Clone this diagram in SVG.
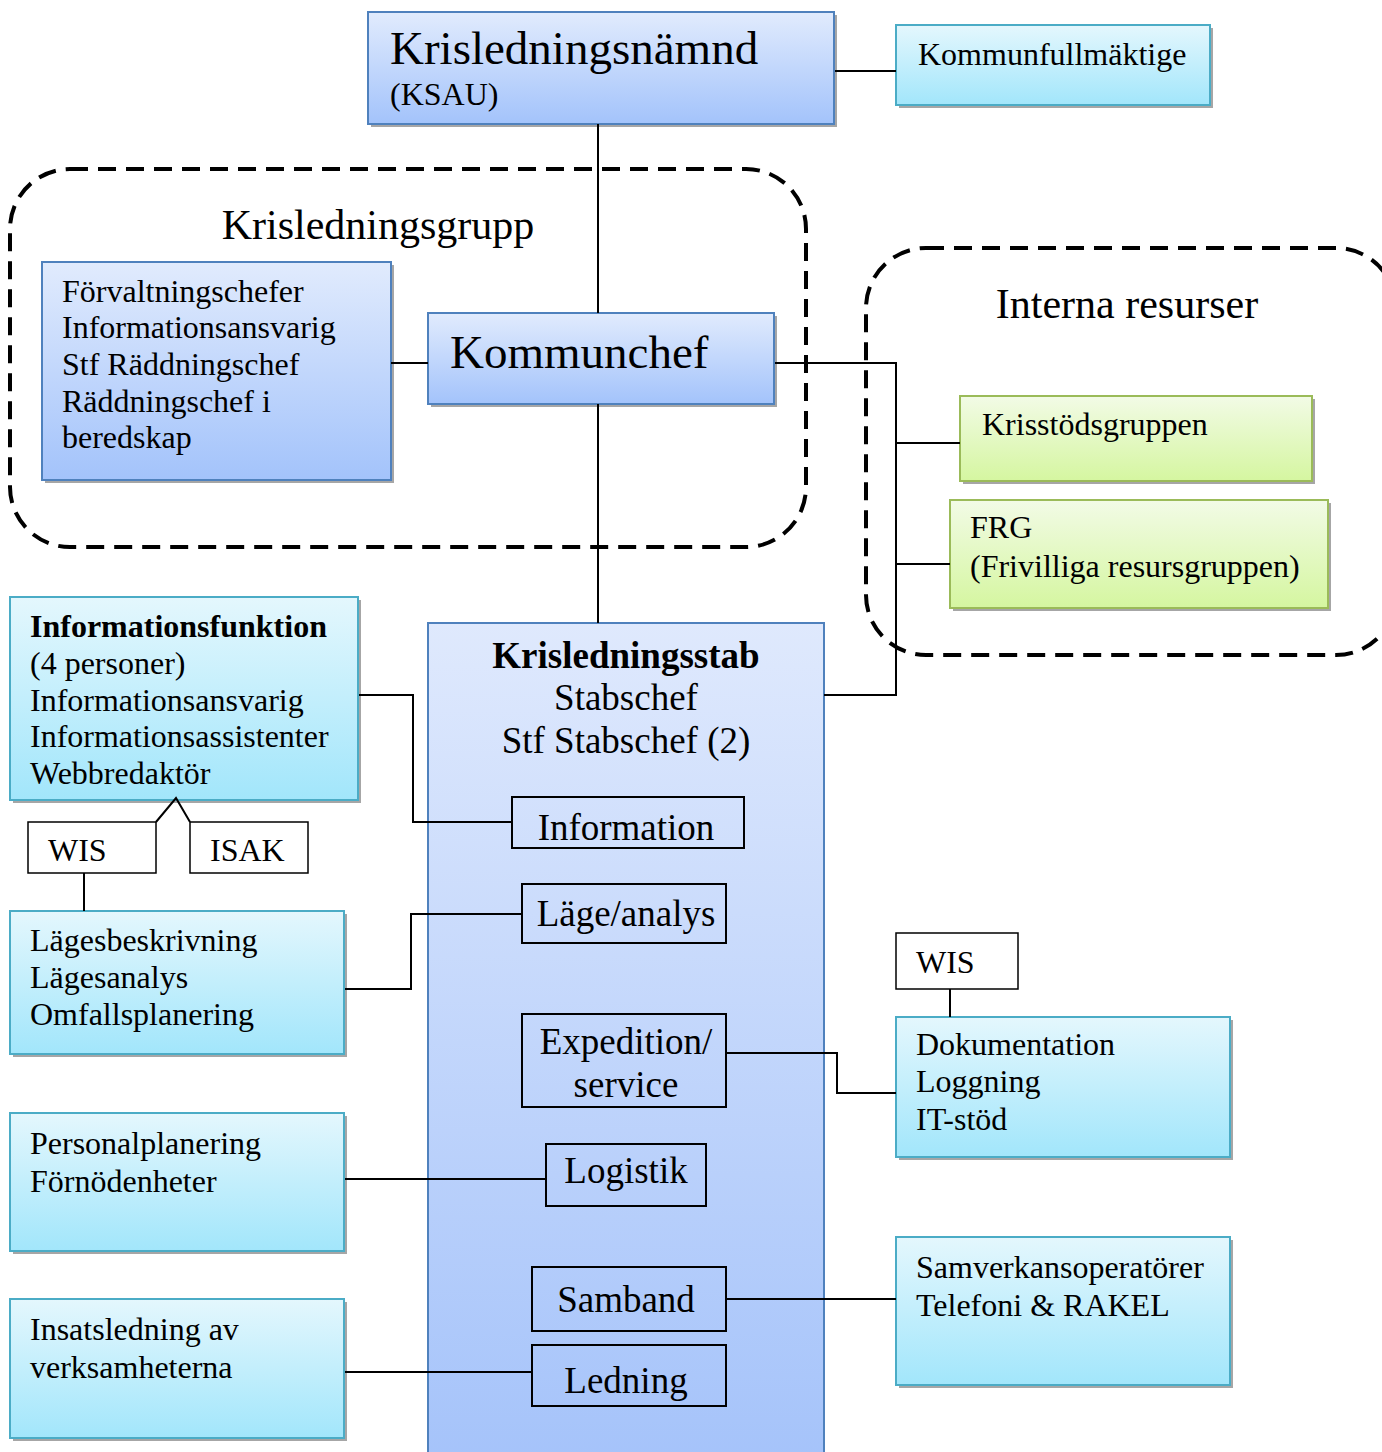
<svg xmlns="http://www.w3.org/2000/svg" width="1382" height="1452" viewBox="0 0 1382 1452">
<defs>
<linearGradient id="gBlue" x1="0" y1="0" x2="0" y2="1"><stop offset="0" stop-color="#e1ebfd"/><stop offset="1" stop-color="#a3c3fb"/></linearGradient>
<linearGradient id="gStab" x1="0" y1="0" x2="0" y2="1"><stop offset="0" stop-color="#dfe9fd"/><stop offset="1" stop-color="#a5c3fa"/></linearGradient>
<linearGradient id="gCyan" x1="0" y1="0" x2="0" y2="1"><stop offset="0" stop-color="#e4f7fd"/><stop offset="1" stop-color="#a2e6fb"/></linearGradient>
<linearGradient id="gGreen" x1="0" y1="0" x2="0" y2="1"><stop offset="0" stop-color="#f2fbe6"/><stop offset="1" stop-color="#d5f6a0"/></linearGradient>
</defs>
<style>
text{font-family:"Liberation Serif","Times New Roman",serif;fill:#000}
.t32{font-size:32px}
.t37{font-size:37px}
.t42{font-size:42px}
.t47{font-size:47px}
.b{font-weight:bold}
.mid{text-anchor:middle}
.shadow{fill:#a6a6a6}
.blue{fill:url(#gBlue);stroke:#4f81bd;stroke-width:2}
.cyan{fill:url(#gCyan);stroke:#4bacc6;stroke-width:2}
.green{fill:url(#gGreen);stroke:#9bbb59;stroke-width:2}
.inner{fill:none;stroke:#000;stroke-width:2}
.plain{fill:#fff;stroke:#000;stroke-width:1.5}
.dash{fill:none;stroke:#000;stroke-width:4;stroke-dasharray:18 10}
.conn{fill:none;stroke:#000;stroke-width:2}
</style>
<g id="group-krisledningsgrupp">
<rect class="dash" x="10" y="169" width="796" height="378" rx="60" ry="60"/>
<text class="t42 mid" x="378" y="239">Krisledningsgrupp</text>
</g>
<g id="group-interna">
<rect class="dash" x="866" y="248" width="530" height="407" rx="60" ry="60"/>
<text class="t42 mid" x="1127" y="318">Interna resurser</text>
</g>
<g id="node-krisledningsnamnd">
<rect class="shadow" x="371" y="15" width="466" height="112"/>
<rect class="blue" x="368" y="12" width="466" height="112"/>
<text class="t47" x="390" y="64">Krisledningsnämnd</text>
<text class="t32" x="390" y="105">(KSAU)</text>
</g>
<g id="node-kommunfullmaktige">
<rect class="shadow" x="899" y="28" width="314" height="80"/>
<rect class="cyan" x="896" y="25" width="314" height="80"/>
<text class="t32" x="918" y="65">Kommunfullmäktige</text>
</g>
<g id="node-forvaltningschefer">
<rect class="shadow" x="45" y="265" width="349" height="218"/>
<rect class="blue" x="42" y="262" width="349" height="218"/>
<text class="t32" x="62" y="302">Förvaltningschefer</text>
<text class="t32" x="62" y="338">Informationsansvarig</text>
<text class="t32" x="62" y="375">Stf Räddningschef</text>
<text class="t32" x="62" y="412">Räddningschef i</text>
<text class="t32" x="62" y="448">beredskap</text>
</g>
<g id="node-kommunchef">
<rect class="shadow" x="431" y="316" width="346" height="91"/>
<rect class="blue" x="428" y="313" width="346" height="91"/>
<text class="t47" x="450" y="368">Kommunchef</text>
</g>
<g id="node-krisstodsgruppen">
<rect class="shadow" x="963" y="399" width="352" height="85"/>
<rect class="green" x="960" y="396" width="352" height="85"/>
<text class="t32" x="982" y="435">Krisstödsgruppen</text>
</g>
<g id="node-frg">
<rect class="shadow" x="953" y="503" width="378" height="108"/>
<rect class="green" x="950" y="500" width="378" height="108"/>
<text class="t32" x="970" y="538">FRG</text>
<text class="t32" x="970" y="577">(Frivilliga resursgruppen)</text>
</g>
<g id="node-krisledningsstab">
<rect class="blue" style="fill:url(#gStab)" x="428" y="623" width="396" height="840"/>
<text class="t37 b mid" x="626" y="668">Krisledningsstab</text>
<text class="t37 mid" x="626" y="710">Stabschef</text>
<text class="t37 mid" x="626" y="753">Stf Stabschef (2)</text>
</g>
<g id="node-information">
<rect class="inner" x="512" y="797" width="232" height="51"/>
<text class="t37 mid" x="626" y="840">Information</text>
</g>
<g id="node-lage">
<rect class="inner" x="522" y="884" width="204" height="59"/>
<text class="t37 mid" x="626" y="926">Läge/analys</text>
</g>
<g id="node-expedition">
<rect class="inner" x="522" y="1014" width="204" height="93"/>
<text class="t37 mid" x="626" y="1054">Expedition/</text>
<text class="t37 mid" x="626" y="1097">service</text>
</g>
<g id="node-logistik">
<rect class="inner" x="546" y="1144" width="160" height="62"/>
<text class="t37 mid" x="626" y="1183">Logistik</text>
</g>
<g id="node-samband">
<rect class="inner" x="532" y="1267" width="194" height="64"/>
<text class="t37 mid" x="626" y="1312">Samband</text>
</g>
<g id="node-ledning">
<rect class="inner" x="532" y="1345" width="194" height="61"/>
<text class="t37 mid" x="626" y="1393">Ledning</text>
</g>
<g id="node-informationsfunktion">
<rect class="shadow" x="13" y="600" width="348" height="203"/>
<rect class="cyan" x="10" y="597" width="348" height="203"/>
<text class="t32 b" x="30" y="637">Informationsfunktion</text>
<text class="t32" x="30" y="674">(4 personer)</text>
<text class="t32" x="30" y="711">Informationsansvarig</text>
<text class="t32" x="30" y="747">Informationsassistenter</text>
<text class="t32" x="30" y="784">Webbredaktör</text>
</g>
<g id="node-wis-left">
<rect class="plain" x="28" y="822" width="128" height="51"/>
<text class="t32" x="48" y="861">WIS</text>
</g>
<g id="node-isak">
<rect class="plain" x="190" y="822" width="118" height="51"/>
<text class="t32" x="210" y="861">ISAK</text>
</g>
<g id="node-lagesbeskrivning">
<rect class="shadow" x="13" y="914" width="334" height="143"/>
<rect class="cyan" x="10" y="911" width="334" height="143"/>
<text class="t32" x="30" y="951">Lägesbeskrivning</text>
<text class="t32" x="30" y="988">Lägesanalys</text>
<text class="t32" x="30" y="1025">Omfallsplanering</text>
</g>
<g id="node-wis-right">
<rect class="plain" x="896" y="933" width="122" height="56"/>
<text class="t32" x="916" y="973">WIS</text>
</g>
<g id="node-dokumentation">
<rect class="shadow" x="899" y="1020" width="334" height="140"/>
<rect class="cyan" x="896" y="1017" width="334" height="140"/>
<text class="t32" x="916" y="1055">Dokumentation</text>
<text class="t32" x="916" y="1092">Loggning</text>
<text class="t32" x="916" y="1130">IT-stöd</text>
</g>
<g id="node-personalplanering">
<rect class="shadow" x="13" y="1116" width="334" height="138"/>
<rect class="cyan" x="10" y="1113" width="334" height="138"/>
<text class="t32" x="30" y="1154">Personalplanering</text>
<text class="t32" x="30" y="1192">Förnödenheter</text>
</g>
<g id="node-samverkan">
<rect class="shadow" x="899" y="1240" width="334" height="148"/>
<rect class="cyan" x="896" y="1237" width="334" height="148"/>
<text class="t32" x="916" y="1278">Samverkansoperatörer</text>
<text class="t32" x="916" y="1316">Telefoni &amp; RAKEL</text>
</g>
<g id="node-insatsledning">
<rect class="shadow" x="13" y="1302" width="334" height="139"/>
<rect class="cyan" x="10" y="1299" width="334" height="139"/>
<text class="t32" x="30" y="1340">Insatsledning av</text>
<text class="t32" x="30" y="1378">verksamheterna</text>
</g>
<g id="connectors">
<line class="conn" x1="835" y1="71" x2="896" y2="71"/>
<line class="conn" x1="598" y1="124" x2="598" y2="313"/>
<line class="conn" x1="598" y1="404" x2="598" y2="623"/>
<line class="conn" x1="391" y1="363" x2="428" y2="363"/>
<polyline class="conn" points="775,363 896,363 896,695 824,695"/>
<line class="conn" x1="896" y1="443" x2="960" y2="443"/>
<line class="conn" x1="896" y1="564" x2="950" y2="564"/>
<polyline class="conn" points="359,695 413,695 413,822 512,822"/>
<polyline class="conn" points="156,822 176,798 190,822"/>
<line class="conn" x1="84" y1="873" x2="84" y2="911"/>
<polyline class="conn" points="345,989 411,989 411,914 522,914"/>
<line class="conn" x1="950" y1="989" x2="950" y2="1017"/>
<polyline class="conn" points="726,1053 837,1053 837,1093 896,1093"/>
<line class="conn" x1="345" y1="1179" x2="546" y2="1179"/>
<line class="conn" x1="726" y1="1299" x2="896" y2="1299"/>
<line class="conn" x1="345" y1="1372" x2="532" y2="1372"/>
</g>
</svg>
